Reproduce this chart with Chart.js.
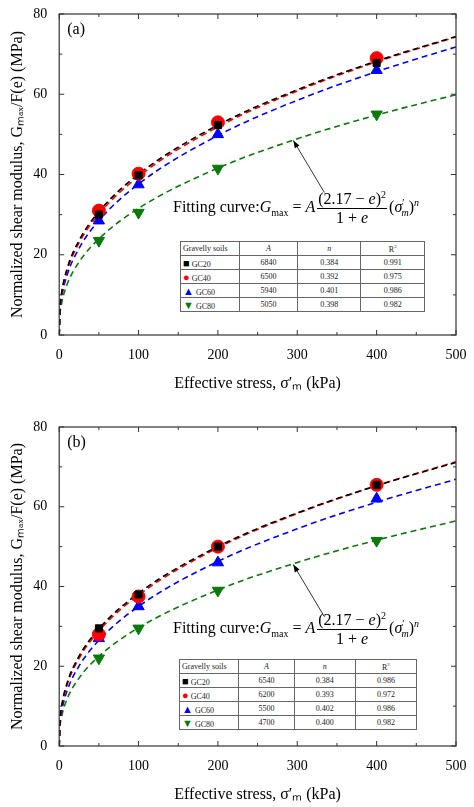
<!DOCTYPE html>
<html><head><meta charset="utf-8">
<script src="https://cdn.jsdelivr.net/npm/chart.js@4.4.0/dist/chart.umd.min.js"></script>
<style>
body{margin:0;background:#fff;width:474px;height:807px;position:relative;overflow:hidden;font-family:"Liberation Serif",serif}
.panel{position:absolute;left:0;width:474px;height:400px}
.formula{position:absolute;font-family:"Liberation Serif",serif;font-size:16px;white-space:nowrap;line-height:1}
.frac{display:inline-block;vertical-align:middle;text-align:center;margin:0 2px}
.frac span{display:block;padding:1px 1px}
.frac span.num{border-bottom:1px solid #000}
.sm{font-size:10px}
table{position:absolute;border-collapse:collapse;font-family:"Liberation Serif",serif;font-size:8px;color:#222;background:#fff}
td{border:1px solid #666;text-align:center;padding:0 2px;height:13px}
td.f{text-align:left;width:54px}
</style></head><body>
<div class="panel" style="top:0"><canvas id="ca"></canvas></div>
<div class="panel" style="top:404px"><canvas id="cb"></canvas></div>
<script>
// ---- data ----
const xPts = [50, 100, 200, 400];
const a_GC20 = [30.0, 39.8, 52.3, 67.8];
const a_GC40 = [31.0, 40.2, 53.0, 69.0];
const a_GC60 = [28.5, 37.5, 50.0, 66.0];
const a_GC80 = [23.5, 30.5, 41.5, 55.0];
const b_GC20 = [29.5, 38.0, 50.0, 65.5];
const b_GC40 = [28.0, 37.5, 50.0, 65.5];
const b_GC60 = [27.0, 35.0, 46.0, 62.0];
const b_GC80 = [22.0, 29.5, 39.0, 51.5];
// fitted curve values read at these stresses
const xFit = [0, 1, 3, 10, 25, 50, 100, 200, 300, 400, 500];
const aFit20 = [0, 6.84, 10.43, 16.56, 23.54, 30.73, 40.09, 52.31, 61.13, 68.27, 74.39];
const aFit40 = [0, 6.50, 10.00, 16.03, 22.96, 30.12, 39.53, 51.87, 60.81, 68.07, 74.29];
const aFit60 = [0, 5.94, 9.23, 14.96, 21.60, 28.52, 37.65, 49.72, 58.50, 65.65, 71.80];
const aFit80 = [0, 5.05, 7.82, 12.63, 18.18, 23.96, 31.57, 41.60, 48.89, 54.82, 59.90];
const bFit20 = [0, 6.54, 9.97, 15.83, 22.51, 29.38, 38.33, 50.02, 58.45, 65.28, 71.12];
const bFit40 = [0, 6.20, 9.55, 15.33, 21.97, 28.84, 37.86, 49.71, 58.30, 65.29, 71.28];
const bFit60 = [0, 5.50, 8.55, 13.88, 20.05, 26.51, 35.02, 46.29, 54.48, 61.15, 66.89];
const bFit80 = [0, 4.70, 7.29, 11.81, 17.03, 22.48, 29.66, 39.13, 46.02, 51.63, 56.45];
const tableA = [["GC20","6840","0.384","0.991"],["GC40","6500","0.392","0.975"],["GC60","5940","0.401","0.986"],["GC80","5050","0.398","0.982"]];
const tableB = [["GC20","6540","0.384","0.986"],["GC40","6200","0.393","0.972"],["GC60","5500","0.402","0.986"],["GC80","4700","0.400","0.982"]];
const xTicks = [0,100,200,300,400,500];
const yTicks = [0,20,40,60,80];
const colors = ["#000000","#ff0000","#0000ff","#0a7a0a"];
const markers = ["rect","circle","triangle","triangle"];
const symbols = ["■","●","▲","▼"];

const pair = (xs, ys) => xs.map((x,i)=>({x, y: ys[i]}));

function build(id, pts, fits, label, arrowTip, tableRows, tabPos, formPos, pad){
  const ds = [];
  fits.forEach((f,i)=>ds.push({type:'line',data:pair(xFit,f),borderColor:colors[i],borderWidth:1.6,borderDash:[6,4],pointRadius:0,cubicInterpolationMode:'monotone',order:2}));
  pts.forEach((p,i)=>ds.push({type:'scatter',data:pair(xPts,p),backgroundColor:colors[i],borderColor:colors[i],pointStyle:markers[i],pointRadius:i==0?5:6.5,rotation:i==3?180:0,order:1}));
  const boxPlugin = {id:'box'+id, afterDraw(c){
    const {ctx, chartArea:a, scales:{x,y}} = c;
    ctx.save(); ctx.strokeStyle='#333'; ctx.lineWidth=1.2;
    ctx.strokeRect(a.left,a.top,a.right-a.left,a.bottom-a.top);
    ctx.lineWidth=1;
    for(let v=0;v<=500;v+=50){const px=x.getPixelForValue(v);const L=v%100?3:5;
      ctx.beginPath();ctx.moveTo(px,a.bottom);ctx.lineTo(px,a.bottom-L);ctx.moveTo(px,a.top);ctx.lineTo(px,a.top+L);ctx.stroke();}
    for(let v=0;v<=80;v+=10){const py=y.getPixelForValue(v);const L=v%20?3:5;
      ctx.beginPath();ctx.moveTo(a.left,py);ctx.lineTo(a.left+L,py);ctx.moveTo(a.right,py);ctx.lineTo(a.right-L,py);ctx.stroke();}
    ctx.fillStyle='#000';ctx.font='16px "Liberation Serif"';ctx.textBaseline='top';ctx.fillText(label,a.left+8,a.top+8);
    const tx=x.getPixelForValue(arrowTip[0]), ty=y.getPixelForValue(arrowTip[1]);
    const sx=tx+31, sy=ty+52;
    ctx.strokeStyle='#333';ctx.beginPath();ctx.moveTo(sx,sy);ctx.lineTo(tx,ty);ctx.stroke();
    const ang=Math.atan2(ty-sy,tx-sx);
    ctx.fillStyle='#000';ctx.beginPath();ctx.moveTo(tx,ty);
    ctx.lineTo(tx-8*Math.cos(ang-0.35),ty-8*Math.sin(ang-0.35));
    ctx.lineTo(tx-8*Math.cos(ang+0.35),ty-8*Math.sin(ang+0.35));ctx.closePath();ctx.fill();
    ctx.restore();
  }};
  new Chart(document.getElementById(id),{
    data:{datasets:ds},
    options:{responsive:true,maintainAspectRatio:false,animation:false,
      layout:{padding:{top:pad[0],right:18,left:4,bottom:pad[1]}},
      plugins:{legend:{display:false},tooltip:{enabled:false}},
      scales:{
        x:{type:'linear',min:0,max:500,afterBuildTicks:s=>{s.ticks=xTicks.map(v=>({value:v}))},
          grid:{display:false},border:{display:false},
          ticks:{color:'#000',font:{family:'Liberation Serif',size:14},padding:4},
          title:{display:true,text:"Effective stress, σ′ₘ (kPa)",color:'#000',font:{family:'Liberation Serif',size:16},padding:{top:6,bottom:0}}},
        y:{min:0,max:80,afterBuildTicks:s=>{s.ticks=yTicks.map(v=>({value:v}))},
          grid:{display:false},border:{display:false},
          ticks:{color:'#000',font:{family:'Liberation Serif',size:14},padding:4},
          title:{display:true,text:"Normalized shear modulus, Gₘₐₓ/F(e) (MPa)",color:'#000',font:{family:'Liberation Serif',size:16},padding:{bottom:2}}}
      }},
    plugins:[boxPlugin]
  });
  const panel=document.getElementById(id).parentNode;
  const f=document.createElement('div');f.className='formula';
  f.style.left=formPos[0]+'px';f.style.top=formPos[1]+'px';
  f.innerHTML='Fitting curve:<i>G</i><sub class="sm">max</sub> = <i>A</i><span class="frac"><span class="num">(2.17 − <i>e</i>)<sup class="sm">2</sup></span><span>1 + <i>e</i></span></span>(<i>σ</i><sup class="sm">′</sup><sub class="sm" style="margin-left:-3px"><i>m</i></sub>)<sup class="sm"><i>n</i></sup>';
  panel.appendChild(f);
  const t=document.createElement('table');t.style.left=tabPos[0]+'px';t.style.top=tabPos[1]+'px';t.style.width=tabPos[2]+'px';
  let h='<tr><td class="f">Gravelly soils</td><td><i>A</i></td><td><i>n</i></td><td>R<sup style="font-size:5px">2</sup></td></tr>';
  tableRows.forEach((r,i)=>{h+=`<tr><td class="f"><span style="color:${colors[i]};font-size:11px">${symbols[i]}</span> ${r[0]}</td><td>${r[1]}</td><td>${r[2]}</td><td>${r[3]}</td></tr>`;});
  t.innerHTML=h;panel.appendChild(t);
}
build('ca',[a_GC20,a_GC40,a_GC60,a_GC80],[aFit20,aFit40,aFit60,aFit80],'(a)',[295,48.5],tableA,[180,241,245],[173,189],[14,7]);
build('cb',[b_GC20,b_GC40,b_GC60,b_GC80],[bFit20,bFit40,bFit60,bFit80],'(b)',[295,45.5],tableB,[179,255,238],[173,206],[23,0]);
</script></body></html>
